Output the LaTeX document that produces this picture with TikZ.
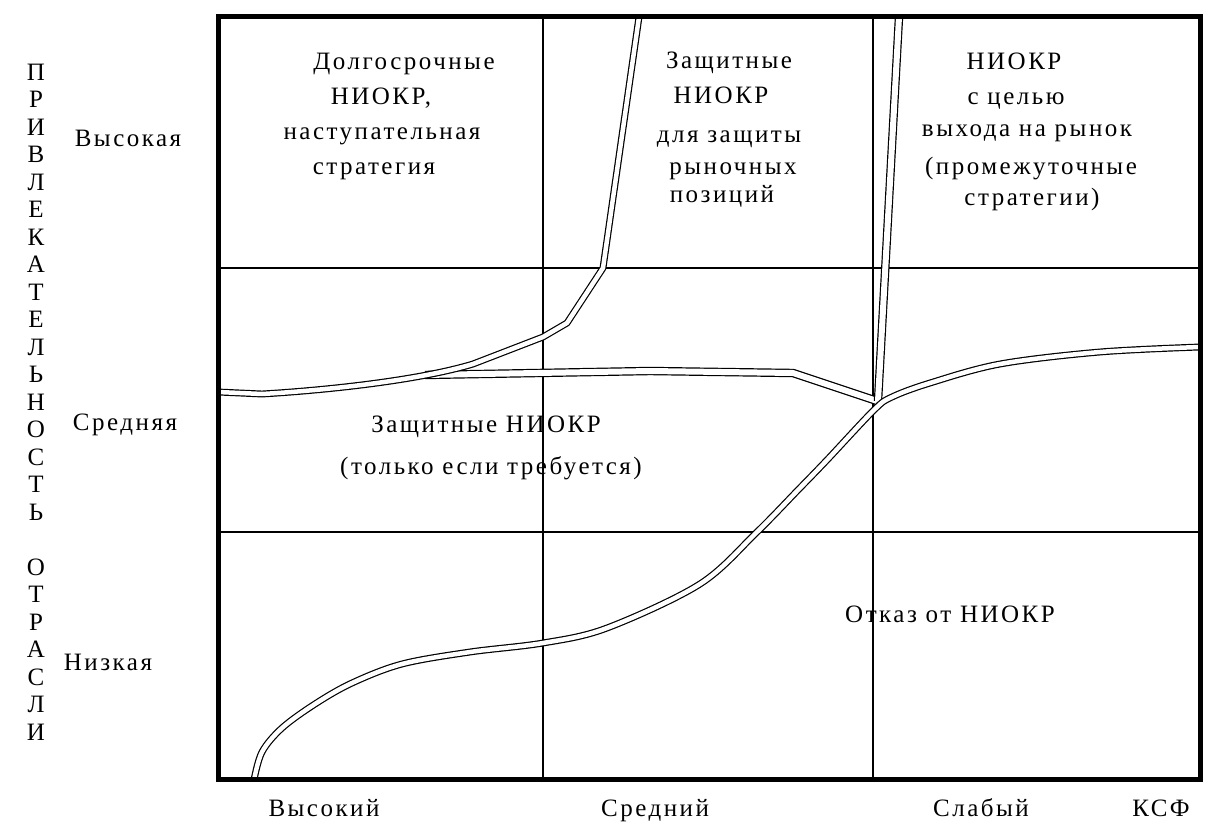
\documentclass[tikz,border=0pt]{standalone}
\usepackage{fontspec}
\setmainfont{Liberation Serif}[LetterSpace=10]
\begin{document}
\begin{tikzpicture}[x=1pt,y=-1pt,
  lbl/.style={font=\fontsize{25}{27.5}\selectfont, inner sep=0pt, anchor=base},
  rail/.style={draw=black, double=white, double distance=4.5pt, line width=1.2pt, line join=round},
  widerail/.style={rail, double distance=6pt},
  gridline/.style={line width=1.4pt},
  frameline/.style={line width=5pt}]
\useasboundingbox (0,0) rectangle (1216,824);
\fill[white] (0,0) rectangle (1216,824);

% grid of the 3x3 matrix
\draw[gridline] (543,17) -- (543,779);
\draw[gridline] (873,17) -- (873,779);
\draw[gridline] (218,268) -- (1200,268);
\draw[gridline] (218,532) -- (1200,532);

% boundaries between strategy zones (double lines)
\draw[widerail] (425,375) -- (650,371) -- (793,373) -- (877,401);
\draw[rail] (218,392) -- (262,394) .. controls (330,390) and (420,380) .. (473,364)
  -- (543,337) -- (567,323) -- (603,268) -- (639,17);
\draw[widerail] (899,17) -- (878,401);
\draw[rail] plot[smooth, tension=0.55] coordinates {(254,780) (262,752) (282,728)
  (315,704) (352,683) (402,664) (470,652) (543,643) (607,628) (700,584) (756,533)
  (798,490) (827,460) (874,410) (892,397) (930,383) (1000,364) (1100,352) (1200,347)};

% outer frame
\draw[frameline] (218,17) rectangle (1200,779);

% vertical axis title
\node[lbl, anchor=center, align=center] (ytitle) at (36,402)
  {П\\Р\\И\\В\\Л\\Е\\К\\А\\Т\\Е\\Л\\Ь\\Н\\О\\С\\Т\\Ь\\[27.5pt]О\\Т\\Р\\А\\С\\Л\\И};

% row labels
\node[lbl] (rowhigh) at (128,147) {Высокая};
\node[lbl] (rowmid) at (125,430) {Средняя};
\node[lbl] (rowlow) at (108,670) {Низкая};

% column labels
\node[lbl] (colhigh) at (324,816) {Высокий};
\node[lbl] (colmid) at (655,816) {Средний};
\node[lbl] (collow) at (981,816) {Слабый};
\node[lbl] (ksf) at (1161,816) {КСФ};

% zone: long-term R&D
\node[lbl] (a1) at (404,70) {Долгосрочные};
\node[lbl] (a2) at (381,105) {НИОКР,};
\node[lbl] (a3) at (382,140) {наступательная};
\node[lbl] (a4) at (374,175) {стратегия};

% zone: defensive R&D for market positions
\node[lbl] (b1) at (729,69) {Защитные};
\node[lbl] (b2) at (721,104) {НИОКР};
\node[lbl] (b3) at (729,143) {для защиты};
\node[lbl] (b4) at (733,175) {рыночных};
\node[lbl] (b5) at (722,202) {позиций};

% zone: market entry R&D
\node[lbl] (c1) at (1014,70) {НИОКР};
\node[lbl] (c2) at (1016,105) {с целью};
\node[lbl] (c3) at (1027,137) {выхода на рынок};
\node[lbl] (c4) at (1031,175) {(промежуточные};
\node[lbl] (c5) at (1032,205) {стратегии)};

% zone: defensive R&D if required
\node[lbl] (d1) at (486,432) {Защитные НИОКР};
\node[lbl] (d2) at (491,474) {(только если требуется)};

% zone: abandoning R&D
\node[lbl] (e1) at (950,622) {Отказ от НИОКР};
\end{tikzpicture}
\end{document}
